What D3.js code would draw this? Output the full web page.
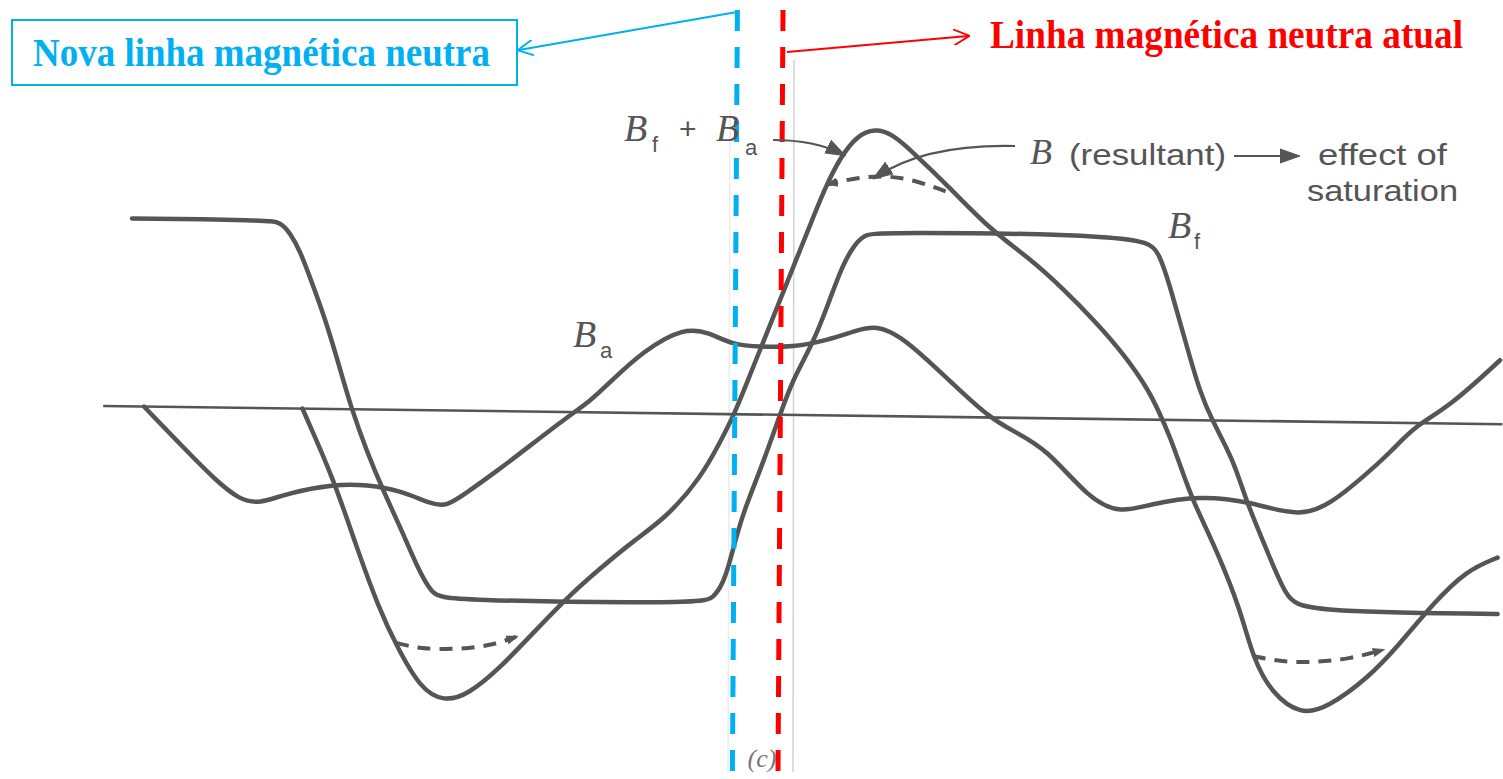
<!DOCTYPE html>
<html>
<head>
<meta charset="utf-8">
<script src="https://cdn.jsdelivr.net/npm/d3@7/dist/d3.min.js"></script>
<style>
  html, body { margin: 0; padding: 0; background: #fff; }
  svg { display: block; }
</style>
</head>
<body>
<svg id="mainsvg" width="1503" height="779"></svg>
<script>
// [theta (graus elétricos), B (% do pico de Bf)]
const campoBf = [
  [-270, 100], [-214, 100], [-208, 99], [-204, 93], [-200, 84], [-195, 67], [-189, 46],
  [-183, 20], [-179, 2], [-172, -23], [-165, -44], [-158, -63], [-151, -84], [-145, -98],
  [-139, -101], [-33, -101], [-28, -98], [-24, -91], [-21, -79], [-19, -69], [-15, -51],
  [-8, -29], [0, 0], [5, 18], [14, 39], [20, 59], [26, 80], [31, 91], [35, 96], [40, 98],
  [150, 98], [158, 91], [164, 64], [170, 37], [175, 15], [180, 0], [189, -21],
  [194, -42], [203, -69], [211, -94], [218, -101], [299, -101]
];
const campoBa = [
  [-265, 0], [-249, -21], [-235, -39], [-225, -49], [-217, -51], [-205, -45], [-186, -40],
  [-172, -40], [-158, -43], [-145, -50], [-139, -51], [-131, -44], [-117, -31], [-103, -17],
  [-89, -3], [-79, 6], [-71, 16], [-57, 33], [-40, 46], [-29, 43], [-20, 37], [-8, 36],
  [5, 36], [20, 40], [33, 46], [40, 48], [50, 43], [62.5, 29], [76, 13], [87.5, 0], [97, -7],
  [111, -16], [129, -43], [142, -50], [154, -45], [175, -40], [196, -43], [217, -51],
  [230, -43], [243, -29], [255, -15], [264, -2], [279, 9], [300, 34]
];
const campoRes = [
  [-199, 0], [-186, -37], [-176, -75], [-167, -106], [-160, -125], [-150, -148], [-140, -155],
  [-130, -151], [-117, -137], [-103, -118], [-89, -99], [-75, -83], [-61, -68], [-47, -55],
  [-33, -34], [-25, -15], [-19, 0], [-12.5, 21], [-6.25, 41], [0, 61], [6.25, 81],
  [12.5, 101], [18.75, 121], [25, 137], [32, 149], [39.6, 153], [47, 150], [55, 141],
  [70, 123], [87.5, 100], [104, 85], [118, 69], [132, 51], [143, 35], [153, 17], [158, 4],
  [162.5, -9], [167, -25], [172, -43], [182, -69], [192, -101], [197, -126], [205, -145],
  [217, -156], [228, -152], [245, -136], [258, -118], [272, -96], [286, -78], [299, -71]
];
// B resultante com saturação (tracejado)
const satTopo = [[69, 120], [58, 125], [46, 128], [33, 127], [20, 123]];
const satEsq = [[-160, -124], [-150, -127], [-135, -127], [-121, -125], [-110, -120]];
const satDir = [[197, -125], [209, -128], [223, -128], [237, -126], [251, -121]];
const eixo = [[-282, 0], [301, 0]];
const neutraNova = -19;
const neutraAtual = 0;

const svg = d3.select('#mainsvg');
const origem = { x: 780, y: 414.8 };
const inclinacao = Math.atan(0.013) * 180 / Math.PI;

const xScale = d3.scaleLinear().domain([-280, 300]).range([-672, 720]);
const yScale = d3.scaleLinear().domain([-100, 100]).range([188, -188]);

const cinza = '#555';
const azul = '#00b0f0';
const vermelho = '#ff0000';

const defs = svg.append('defs');
const seta = (id, cor, aberta, tam) => {
  defs.append('marker')
    .attr('id', id)
    .attr('viewBox', '0 0 10 10')
    .attr('refX', aberta ? 9 : 8).attr('refY', 5)
    .attr('markerUnits', 'userSpaceOnUse')
    .attr('markerWidth', tam).attr('markerHeight', tam)
    .attr('orient', 'auto')
    .append('path')
    .attr('d', aberta ? 'M0,0 L10,5 L0,10' : 'M0,1.5 L10,5 L0,8.5 Z')
    .attr('fill', aberta ? 'none' : cor)
    .attr('stroke', cor)
    .attr('stroke-width', aberta ? 1.2 : 0.5);
};
seta('setaAzul', azul, true, 16);
seta('setaVermelha', vermelho, true, 16);
seta('setaCinza', cinza, false, 20);
seta('setaPequena', cinza, false, 12);

// faint scan seams
svg.append('line').attr('x1', 794).attr('y1', 60).attr('x2', 793).attr('y2', 772)
  .attr('stroke', '#d2d2d2').attr('stroke-width', 1.5);
svg.append('line').attr('x1', 730).attr('y1', 110).attr('x2', 728).attr('y2', 772)
  .attr('stroke', '#ececec').attr('stroke-width', 1.5);

const g = svg.append('g')
  .attr('id', 'maingroup')
  .attr('transform', `translate(${origem.x}, ${origem.y}) skewY(${inclinacao})`);

const linha = d3.line()
  .x(d => xScale(d[0]))
  .y(d => yScale(d[1]))
  .curve(d3.curveBasis);

g.append('path').datum(eixo)
  .attr('d', d3.line().x(d => xScale(d[0])).y(d => yScale(d[1])))
  .attr('stroke', cinza).attr('stroke-width', 2.6).attr('fill', 'none');

[campoBa, campoBf, campoRes].forEach(serie => {
  g.append('path').datum(serie)
    .attr('d', linha)
    .attr('fill', 'none')
    .attr('stroke', cinza)
    .attr('stroke-width', 4.5)
    .attr('stroke-linecap', 'round')
    .attr('stroke-linejoin', 'round');
});

[satTopo, satEsq, satDir].forEach(serie => {
  g.append('path').datum(serie)
    .attr('d', linha)
    .attr('fill', 'none')
    .attr('stroke', cinza)
    .attr('stroke-width', 4)
    .attr('stroke-dasharray', '13 9')
    .attr('marker-end', 'url(#setaPequena)');
});

// neutral lines
const neutras = [
  { theta: neutraNova, cor: azul },
  { theta: neutraAtual, cor: vermelho }
];
svg.selectAll('line.neutra').data(neutras).enter().append('line')
  .attr('class', 'neutra')
  .attr('x1', d => origem.x + xScale(d.theta) + 3).attr('y1', 10)
  .attr('x2', d => origem.x + xScale(d.theta) - 2).attr('y2', 772)
  .attr('stroke', d => d.cor)
  .attr('stroke-width', 5)
  .attr('stroke-dasharray', '21 16');

// labels on the curves
const serif = '"Liberation Serif", "Times New Roman", serif';
const sans = '"Liberation Sans", Arial, sans-serif';
const rotulo = (x, y, letra, sub, xs, ys) => {
  svg.append('text').attr('x', x).attr('y', y).text(letra)
    .attr('font-family', serif).attr('font-style', 'italic')
    .attr('font-size', 38).attr('fill', cinza);
  svg.append('text').attr('x', xs).attr('y', ys).text(sub)
    .attr('font-family', sans).attr('font-size', 22).attr('fill', cinza);
};
rotulo(624, 141, 'B', 'f', 652, 152);
svg.append('text').attr('x', 679).attr('y', 139).text('+')
  .attr('font-family', sans).attr('font-size', 30).attr('fill', cinza);
rotulo(716, 141, 'B', 'a', 745, 155);
rotulo(573, 347, 'B', 'a', 600, 358);
rotulo(1168, 238, 'B', 'f', 1194, 249);

svg.append('path')
  .attr('d', 'M773,140 Q815,140 842,154')
  .attr('fill', 'none').attr('stroke', cinza).attr('stroke-width', 2.2)
  .attr('marker-end', 'url(#setaCinza)');

svg.append('path')
  .attr('d', 'M1015,146 Q925,144 876,177')
  .attr('fill', 'none').attr('stroke', cinza).attr('stroke-width', 2.2)
  .attr('marker-end', 'url(#setaCinza)');

svg.append('text').attr('x', 1030).attr('y', 164).text('B')
  .attr('font-family', serif).attr('font-style', 'italic')
  .attr('font-size', 36).attr('fill', cinza);
svg.append('text').attr('x', 1069).attr('y', 165).text('(resultant)')
  .attr('font-family', sans).attr('font-size', 30).attr('fill', cinza)
  .attr('textLength', 157).attr('lengthAdjust', 'spacingAndGlyphs');
svg.append('line').attr('x1', 1234).attr('y1', 156).attr('x2', 1296).attr('y2', 156)
  .attr('stroke', cinza).attr('stroke-width', 2.2)
  .attr('marker-end', 'url(#setaCinza)');
svg.append('text').attr('x', 1318).attr('y', 165).text('effect of')
  .attr('font-family', sans).attr('font-size', 30).attr('fill', cinza)
  .attr('textLength', 129).attr('lengthAdjust', 'spacingAndGlyphs');
svg.append('text').attr('x', 1307).attr('y', 201).text('saturation')
  .attr('font-family', sans).attr('font-size', 30).attr('fill', cinza)
  .attr('textLength', 151).attr('lengthAdjust', 'spacingAndGlyphs');

svg.append('text').attr('x', 762).attr('y', 767).text('(c)')
  .attr('text-anchor', 'middle')
  .attr('font-family', serif).attr('font-style', 'italic')
  .attr('font-size', 26).attr('fill', '#777');

// annotations
svg.append('rect').attr('x', 12).attr('y', 20).attr('width', 505).attr('height', 65)
  .attr('fill', '#fff').attr('stroke', azul).attr('stroke-width', 2);
svg.append('text').attr('x', 33).attr('y', 66).text('Nova linha magnética neutra')
  .attr('font-family', serif).attr('font-weight', 'bold')
  .attr('font-size', 40).attr('fill', azul)
  .attr('textLength', 457).attr('lengthAdjust', 'spacingAndGlyphs');
svg.append('line').attr('x1', 737).attr('y1', 12).attr('x2', 519).attr('y2', 50)
  .attr('stroke', azul).attr('stroke-width', 2)
  .attr('marker-end', 'url(#setaAzul)');

svg.append('text').attr('x', 990).attr('y', 48).text('Linha magnética neutra atual')
  .attr('font-family', serif).attr('font-weight', 'bold')
  .attr('font-size', 40).attr('fill', vermelho)
  .attr('textLength', 473).attr('lengthAdjust', 'spacingAndGlyphs');
svg.append('line').attr('x1', 787).attr('y1', 52).attr('x2', 968).attr('y2', 36)
  .attr('stroke', vermelho).attr('stroke-width', 2)
  .attr('marker-end', 'url(#setaVermelha)');
</script>
</body>
</html>
